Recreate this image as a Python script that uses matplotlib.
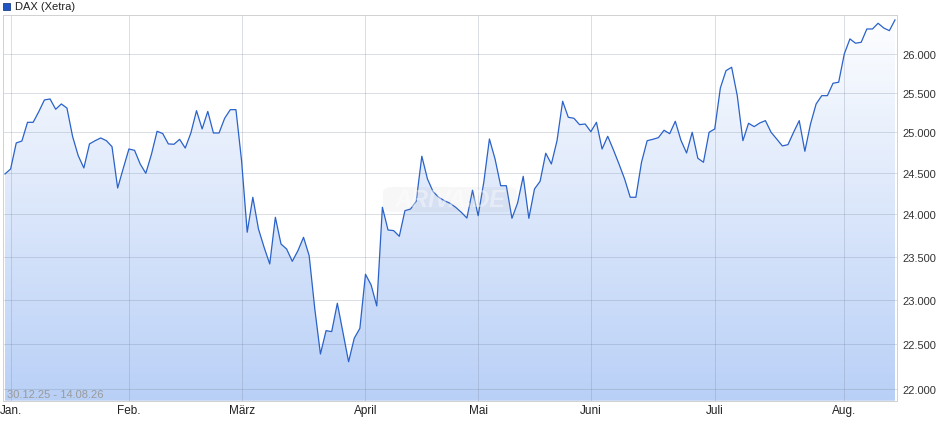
import numpy as np
import matplotlib
matplotlib.use("Agg")
import matplotlib.pyplot as plt
from matplotlib.patches import FancyBboxPatch, Rectangle
from matplotlib.ticker import FixedLocator, FixedFormatter, NullLocator

# ---- data (DAX Xetra daily closes, 30.12.25 - 14.08.26) ----
values = [
    24488, 24549, 24869, 24893, 25126, 25126, 25260, 25408, 25420, 25290,
    25357, 25305, 24950, 24712, 24561, 24857, 24897, 24931, 24897, 24823,
    24317, 24557, 24794, 24778, 24610, 24496, 24729, 25014, 24986, 24857,
    24853, 24914, 24806, 24993, 25272, 25043, 25263, 24993, 24993, 25177,
    25285, 25285, 24650, 23787, 24205, 23826, 23609, 23414, 23965, 23648,
    23589, 23445, 23569, 23727, 23511, 22895, 22387, 22649, 22638, 22960,
    22630, 22301, 22563, 22675, 23294, 23170, 22929, 24085, 23814, 23806,
    23739, 24044, 24064, 24157, 24705, 24427, 24273, 24205, 24164, 24133,
    24085, 24025, 23956, 24290, 23984, 24387, 24918, 24671, 24345, 24345,
    23953, 24136, 24459, 23953, 24305, 24399, 24742, 24610, 24897, 25391,
    25189, 25177, 25097, 25105, 25009, 25126, 24794, 24952, 24786, 24610,
    24427, 24205, 24205, 24631, 24897, 24914, 24935, 25027, 24984, 25139,
    24902, 24745, 25002, 24680, 24631, 25002, 25043, 25560, 25781, 25825,
    25462, 24897, 25114, 25072, 25118, 25147, 25002, 24918, 24832, 24848,
    25002, 25147, 24766, 25105, 25357, 25462, 25462, 25620, 25633, 25997,
    26192, 26136, 26148, 26322, 26322, 26397, 26335, 26300, 26441,
]
month_labels = ["Jan.", "Feb.", "März", "April", "Mai", "Juni", "Juli", "Aug."]
month_start_idx = [1, 22, 42, 64, 84, 104, 126, 149]
y_ticks = [22000, 22500, 23000, 23500, 24000, 24500, 25000, 25500, 26000]
series_name = "DAX (Xetra)"
date_range = "30.12.25 - 14.08.26"
watermark = "ARIVA.DE"

# ---- figure ----
W, H = 940, 435
fig = plt.figure(figsize=(W / 100, H / 100), dpi=100)
plt.rcParams["font.family"] = ["Liberation Sans", "DejaVu Sans"]
PX = 72 / 100  # one pixel in points

left_px, right_px, top_px, bot_px = 3.3, 897.3, 16.0, 401.7
ax = fig.add_axes([left_px / W, (H - bot_px) / H,
                   (right_px - left_px) / W, (bot_px - top_px) / H])

x = np.arange(len(values))
y = np.array(values, dtype=float)

ymin, ymax = 21872, 26506
ax.set_yscale("log")
ax.set_ylim(ymin, ymax)
ax.set_xlim(-0.30, len(values) - 1 + 0.41)

# gradient fill under the line
poly = ax.fill_between(x, y, ymin, facecolor="none", edgecolor="none")
top_c = np.array([0.995, 0.997, 1.0])
bot_c = np.array([0.725, 0.815, 0.967])
t = np.linspace(0, 1, 256)[:, None]
grad = (top_c[None, :] * (1 - t) + bot_c[None, :] * t)[:, None, :]
im = ax.imshow(grad, aspect="auto", extent=[0, 1, 0, 1],
               transform=ax.transAxes, origin="upper", zorder=1,
               interpolation="bilinear")
path = poly.get_paths()[0]
im.set_clip_path(path, transform=ax.transData)

# grid
grid_c = (0.45, 0.5, 0.6, 0.25)
for v in y_ticks:
    ax.axhline(v, color=grid_c, lw=1.0 * PX, zorder=2)
for i in month_start_idx:
    ax.axvline(i, color=grid_c, lw=1.0 * PX, zorder=2)

# line
ax.plot(x, y, color="#2a62c9", lw=1.25 * PX, zorder=3, solid_joinstyle="round")

# axes styling
for s in ax.spines.values():
    s.set_color("#d2d2d2")
    s.set_linewidth(1.0 * PX)
ax.yaxis.tick_right()
ax.yaxis.set_major_locator(FixedLocator(y_ticks))
ax.yaxis.set_major_formatter(FixedFormatter([f"{v:,}".replace(",", ".") for v in y_ticks]))
ax.yaxis.set_minor_locator(NullLocator())
ax.tick_params(axis="y", length=0, pad=3.5, labelsize=8, labelcolor="#333333")
ax.set_xticks(month_start_idx)
ax.set_xticklabels(month_labels, family=["Liberation Sans Narrow", "Liberation Sans"])
ax.tick_params(axis="x", length=0, pad=2.5, labelsize=8.5, labelcolor="#222222")

# date range text inside plot
ax.text((7 - left_px) / (right_px - left_px), (bot_px - 395) / (bot_px - top_px),
        date_range, transform=ax.transAxes, ha="left", va="center",
        fontsize=8, color="#9a9a9a", zorder=4)

# watermark
wx0, wy0, wx1, wy1 = 383, 188, 517, 213
box = FancyBboxPatch((wx0 / W, (H - wy1) / H), (wx1 - wx0) / W, (wy1 - wy0) / H,
                     boxstyle="round,pad=0,rounding_size=0.012",
                     transform=fig.transFigure, facecolor=(0.6, 0.6, 0.6, 0.08),
                     edgecolor="none", zorder=5)
fig.patches.append(box)
fig.text((wx0 + wx1) / 2 / W, (H - (wy0 + wy1) / 2) / H, watermark,
         ha="center", va="center", fontsize=17, fontweight="bold",
         fontstyle="italic", color=(1, 1, 1, 0.4), zorder=6)

# legend
fig.patches.append(Rectangle((3 / W, (H - 10.5) / H), 7 / W, 7 / H,
                             transform=fig.transFigure, facecolor="#1f55c4",
                             edgecolor="#173a80", lw=0.8 * PX))
fig.text(15 / W, (H - 7) / H, series_name, ha="left", va="center",
         fontsize=8, color="#222222")

fig.savefig("out.png", dpi=100)
